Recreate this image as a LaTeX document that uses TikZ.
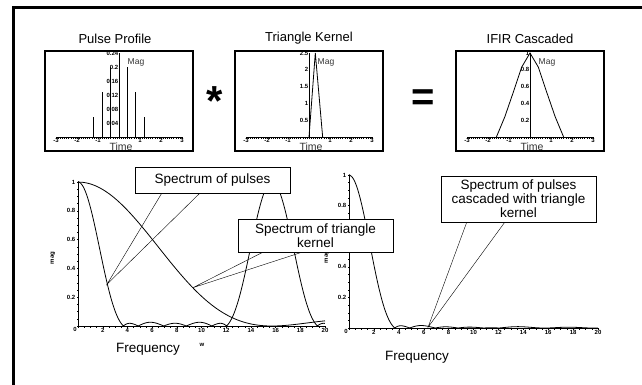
\documentclass[tikz,border=0pt]{standalone}
\usepackage{fontspec}
\setmainfont{Liberation Sans}
\usetikzlibrary{positioning, calc}
\tikzset{
x=1pt, y=-1pt, % one unit is one pixel of the slide, y runs down
panel/.style={draw, line width=1.6pt, minimum width=148pt, minimum height=100pt}, % frame of a time plot
paneltitle/.style={font=\fontsize{13}{13}\selectfont, inner sep=1pt},
callout/.style={draw, fill=white, line width=0.6pt, align=center, inner sep=0pt, font=\fontsize{13.5}{14}\selectfont},
curve/.style={line width=0.8pt},
ticklbl/.style={font=\fontsize{6}{6}\selectfont\bfseries, inner sep=0.5pt},
maglbl/.style={font=\fontsize{8.5}{8.5}\selectfont, text=black!80, inner sep=0pt},
timelbl/.style={font=\fontsize{10.5}{10.5}\selectfont, text=black!80, inner sep=0pt},
axislbl/.style={font=\fontsize{13.5}{13.5}\selectfont, inner sep=0pt},
}
\begin{document}
\begin{tikzpicture}
\useasboundingbox (0,0) rectangle (642,385);
\draw[line width=3pt] (13,385) -- (13,8) -- (642,8);

% the three time plots
\node[panel] (pulsebox) at (119,101) {};
\node[panel] (kernelbox) at (309,101) {};
\node[panel] (ifirbox) at (530,101) {};
\node[paneltitle, above=5pt of pulsebox, xshift=-4pt] (pulsetitle) {Pulse Profile};
\node[paneltitle, above=5pt of kernelbox] (kerneltitle) {Triangle Kernel};
\node[paneltitle, above=5pt of ifirbox] (ifirtitle) {IFIR Cascaded};
\node[font=\fontsize{42}{42}\selectfont\bfseries, inner sep=0pt, anchor=base] (conv) at (215,116) {*};
\node[font=\fontsize{40}{40}\selectfont\bfseries, inner sep=0pt, anchor=base] (equals) at (423,111) {=};

\begin{scope}[shift={($(pulsebox.center)+(0,36)$)}, x=21pt, y=84pt]
  \draw (-3,0) -- (3,0);
  \foreach \t in {-3,-2.9,...,3.05} \draw (\t,0) -- ++(0,-1.5pt);
  \draw (0,0) -- (0,1);
  \foreach \t/\h in {-1.2/0.24,-0.8/0.53,-0.4/0.83,0/1,0.4/0.83,0.8/0.53,1.2/0.24}
    \draw[line width=1pt] (\t,0) -- (\t,\h);
  \foreach \t in {-3,-2,-1,1,2,3} \node[ticklbl, below=1pt] at (\t,0) {\t};
  \foreach \k/\v in {1/0.04,2/0.08,3/0.12,4/0.16,5/0.2,6/0.24} \node[ticklbl, left] at (0,\k/6) {\v};
  \node[maglbl, xshift=17pt, yshift=75pt] (pulsemag) at (0,0) {Mag};
  \node[timelbl, xshift=2pt, yshift=-10pt] (pulsetime) at (0,0) {Time};
\end{scope}

\begin{scope}[shift={($(kernelbox.center)+(0,36)$)}, x=21pt, y=33.6pt]
  \draw (-3,0) -- (3,0);
  \foreach \t in {-3,-2.9,...,3.05} \draw (\t,0) -- ++(0,-1.5pt);
  \draw (0,0) -- (0,2.5);
  \draw[curve] (0,0) -- (0.3,2.5) -- (0.65,0);
  \foreach \t in {-3,-2,-1,1,2,3} \node[ticklbl, below=1pt] at (\t,0) {\t};
  \foreach \v in {0.5,1,1.5,2,2.5} \node[ticklbl, left] at (0,\v) {\v};
  \node[maglbl, xshift=17pt, yshift=75pt] (kernelmag) at (0,0) {Mag};
  \node[timelbl, xshift=2pt, yshift=-10pt] (kerneltime) at (0,0) {Time};
\end{scope}

\begin{scope}[shift={($(ifirbox.center)+(0,36)$)}, x=21pt, y=84pt]
  \draw (-3,0) -- (3,0);
  \foreach \t in {-3,-2.9,...,3.05} \draw (\t,0) -- ++(0,-1.5pt);
  \draw (0,0) -- (0,1);
  \draw[curve] plot coordinates {(-1.6,0) (-1.2,0.24) (-0.8,0.53) (-0.4,0.83) (0,1) (0.4,0.83) (0.8,0.53) (1.2,0.24) (1.6,0)};
  \foreach \t in {-3,-2,-1,1,2,3} \node[ticklbl, below=1pt] at (\t,0) {\t};
  \foreach \v in {0.2,0.4,0.6,0.8,1} \node[ticklbl, left] at (0,\v) {\v};
  \node[maglbl, xshift=17pt, yshift=75pt] (ifirmag) at (0,0) {Mag};
  \node[timelbl, xshift=2pt, yshift=-10pt] (ifirtime) at (0,0) {Time};
\end{scope}

% spectra of pulses and of the kernel
\begin{scope}[shift={(78,326)}, x=12.35pt, y=144pt]
  \draw (0,0) -- (20,0);
  \draw (0,0) -- (0,1);
  \foreach \f in {0,0.5,...,20} \draw (\f,0) -- ++(0,-1.5pt);
  \foreach \m in {0,0.05,...,1.01} \draw (0,\m) -- ++(-1.5pt,0);
  \foreach \f in {2,4,...,20} \node[ticklbl, below=2pt] at (\f,0) {\f};
  \node[ticklbl, below left=1pt] at (0,0) {0};
  \foreach \m in {0.2,0.4,0.6,0.8,1} \node[ticklbl, left=2pt] at (0,\m) {\m};
  \draw[curve] plot[domain=0.01:20, samples=200] (\x, {(sin(0.2*\x r)/(0.2*\x))^2});
  \draw[curve] plot[domain=0:20, samples=320] (\x, {abs(1+1.7*cos(0.4*\x r)+1.06*cos(0.8*\x r)+0.44*cos(1.2*\x r))/4.2});
  \coordinate (pulsetip) at (2.35,0.29);
  \coordinate (kerneltip) at (9.3,0.266);
\end{scope}
\node[ticklbl, rotate=90] (leftmag) at (53,258) {mag};
\node[ticklbl] (leftw) at (202,345) {w};
\node[axislbl] (leftfreq) at (148,349) {Frequency};

% cascaded spectrum
\begin{scope}[shift={(349,328)}, x=12.45pt, y=153pt]
  \draw (0,0) -- (20,0);
  \draw (0,0) -- (0,1);
  \foreach \f in {0,0.5,...,20} \draw (\f,0) -- ++(0,-1.5pt);
  \foreach \m in {0,0.05,...,1.01} \draw (0,\m) -- ++(-1.5pt,0);
  \foreach \f in {2,4,...,20} \node[ticklbl, below=2pt] at (\f,0) {\f};
  \node[ticklbl, below left=1pt] at (0,0) {0};
  \foreach \m in {0.2,0.4,0.8,1} \node[ticklbl, left=2pt] at (0,\m) {\m};
  \draw[curve] plot[domain=0.01:20, samples=320] (\x, {(sin(0.2*\x r)/(0.2*\x))^2*abs(1+1.7*cos(0.4*\x r)+1.06*cos(0.8*\x r)+0.44*cos(1.2*\x r))/4.2});
  \coordinate (cascadetip) at (6.35,0.005);
\end{scope}
\node[ticklbl, rotate=90] (rightmag) at (327,257) {mag};
\node[axislbl] (rightfreq) at (417,357) {Frequency};

% callouts
\node[callout, minimum width=155pt, minimum height=26pt] (pulsenote) at (212.5,180) {Spectrum of pulses};
\node[callout, minimum width=155pt, minimum height=33pt] (kernelnote) at (315.5,235.5) {Spectrum of triangle\\kernel};
\node[callout, minimum width=155pt, minimum height=46pt] (cascadenote) at (518.5,199) {Spectrum of pulses\\cascaded with triangle\\kernel};
\draw ($(pulsenote.south west)+(27,0)$) -- (pulsetip) -- ($(pulsenote.south west)+(65,0)$);
\draw ($(kernelnote.south west)+(25,0)$) -- (kerneltip) -- ($(kernelnote.south west)+(64,0)$);
\draw ($(cascadenote.south west)+(26,0)$) -- (cascadetip) -- ($(cascadenote.south west)+(64,0)$);
\end{tikzpicture}
\end{document}
